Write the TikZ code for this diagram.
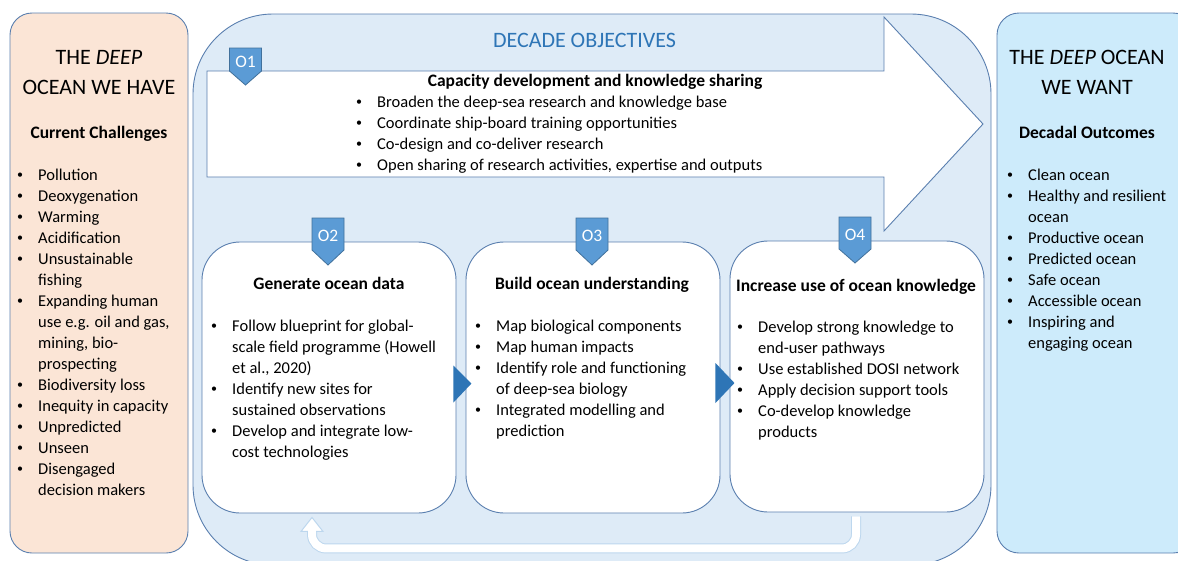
\documentclass[tikz,border=0pt]{standalone}
\usepackage{fontspec}
\setmainfont{Carlito}
\usetikzlibrary{calc}

\definecolor{edge}{HTML}{5A7FAF}
\definecolor{peach}{HTML}{FBE5D6}
\definecolor{paleblue}{HTML}{DEEBF7}
\definecolor{skyfill}{HTML}{CDEBFB}
\definecolor{tagblue}{HTML}{5B9BD5}
\definecolor{tagedge}{HTML}{41719C}
\definecolor{deepblue}{HTML}{2E75B6}
\definecolor{loopedge}{HTML}{BDD7EE}

% bullet lines and continuation lines of a list
\newcommand\bl{\makebox[22pt][l]{\hspace{1pt}\raisebox{1.6pt}{\fontsize{12}{12}\selectfont\textbullet}}}
\newcommand\cn{\hspace*{22pt}}
\newcommand\lines[1]{\begin{tabular}[t]{@{}l@{}}#1\end{tabular}}
\newcommand\clines[1]{\begin{tabular}[t]{@{}c@{}}#1\end{tabular}}

% objective tag: name, x, top, shoulder, tip, label
\newcommand\objtag[6]{%
  \draw[tagshape] (#2-16,#3) -- (#2+16,#3) -- (#2+16,#4) -- (#2,#5) -- (#2-16,#4) -- cycle;
  \node[tagtext] (#1) at (#2,{(#3+#4)/2+2}) {#6};}

\tikzset{
  panel/.style={draw=edge, line width=0.9pt, rounded corners=#1, inner sep=0pt},
  panel/.default=22pt,
  tagshape/.style={fill=tagblue, draw=tagedge, line width=0.8pt},
  tagtext/.style={text=white, font=\fontsize{17.5}{19}\selectfont, inner sep=0pt},
  body/.style={font=\fontsize{16.5}{21}\selectfont, inner sep=0pt, anchor=base west},
  head/.style={font=\bfseries\fontsize{17.5}{21}\selectfont, inner sep=0pt, anchor=base},
  big/.style={font=\fontsize{22}{30}\selectfont, inner sep=0pt, anchor=base},
  pointer/.style={fill=deepblue},
}

\begin{document}
\begin{tikzpicture}[x=1pt, y=-1pt]
\useasboundingbox (0,0) rectangle (1178,560);
\clip (0,0) rectangle (1178,560);

% three panels
\node[panel=22pt, fill=peach, minimum width=178pt, minimum height=540pt] (have) at (99,283) {};
\node[panel=80pt, fill=paleblue, minimum width=798pt, minimum height=551pt] (obj) at (592,289.5) {};
\node[panel=22pt, fill=skyfill, minimum width=198pt, minimum height=540pt] (want) at (1096,283) {};

% objective O1 arrow
\draw[fill=white, draw=edge, line width=0.9pt]
  (207,71) -- (884,71) -- (884,17) -- (983,124) -- (884,231) -- (884,177) -- (207,177) -- cycle;

% objectives O2--O4
\node[panel=38pt, fill=white, minimum width=254pt, minimum height=271pt] (b2) at (329,377.5) {};
\node[panel=38pt, fill=white, minimum width=254pt, minimum height=271pt] (b3) at (593,377.5) {};
\node[panel=38pt, fill=white, minimum width=254pt, minimum height=271pt] (b4) at (857,376.5) {};

% pointers between the objectives
\fill[pointer] ($(b2.east)+(-3,-12)$) -- ($(b2.east)+(-3,25)$) -- ($(b2.east)+(15,6)$) -- cycle;
\fill[pointer] ($(b3.east)+(-5,-14.5)$) -- ($(b3.east)+(-5,25.5)$) -- ($(b3.east)+(14,5.5)$) -- cycle;

% feedback loop from O4 back to O2
\draw[draw=loopedge, line width=1pt, double=white, double distance=8pt, rounded corners=14pt]
  ($(b4.south)+(-1,4)$) |- ($(b2.south)+(-17,35)$) -- ($(b2.south)+(-17,17)$);
\draw[fill=white, draw=loopedge, line width=1pt]
  ($(b2.south)+(-28,18)$) -- ($(b2.south)+(-17,4)$) -- ($(b2.south)+(-6,18)$) -- cycle;
\fill[white] ($(b2.south)+(-21,16)$) rectangle ($(b2.south)+(-13,20)$);

% tags
\objtag{t1}{245.5}{48}{71}{85}{O1}
\objtag{t2}{328}{218}{250}{265}{O2}
\objtag{t3}{592}{218}{250}{265}{O3}
\objtag{t4}{855}{217}{249}{263}{O4}

% left panel
\node[big] (haveT) at (99,64) {\clines{THE \textit{DEEP}\\OCEAN WE HAVE}};
\node[head] (haveH) at (99,138) {Current Challenges};
\node[body] (haveL) at (16,180) {\lines{%
\bl Pollution\\
\bl Deoxygenation\\
\bl Warming\\
\bl Acidification\\
\bl Unsustainable\\
\cn fishing\\
\bl Expanding human\\
\cn use e.g. oil and gas,\\
\cn mining, bio-\\
\cn prospecting\\
\bl Biodiversity loss\\
\bl Inequity in capacity\\
\bl Unpredicted\\
\bl Unseen\\
\bl Disengaged\\
\cn decision makers}};

% right panel
\node[big] (wantT) at (1087,64) {\clines{THE \textit{DEEP} OCEAN\\WE WANT}};
\node[head] (wantH) at (1087,138) {Decadal Outcomes};
\node[body] (wantL) at (1006,180) {\lines{%
\bl Clean ocean\\
\bl Healthy and resilient\\
\cn ocean\\
\bl Productive ocean\\
\bl Predicted ocean\\
\bl Safe ocean\\
\bl Accessible ocean\\
\bl Inspiring and\\
\cn engaging ocean}};

% middle panel
\node[big, text=deepblue] (objT) at (584.5,47) {DECADE OBJECTIVES};

\node[head] (h1) at (595,86) {Capacity development and knowledge sharing};
\node[body] (l1) at (355,107.5) {\lines{%
\bl Broaden the deep-sea research and knowledge base\\
\bl Coordinate ship-board training opportunities\\
\bl Co-design and co-deliver research\\
\bl Open sharing of research activities, expertise and outputs}};

\node[head] (h2) at (329,289) {Generate ocean data};
\node[body] (l2) at (210,331.5) {\lines{%
\bl Follow blueprint for global-\\
\cn scale field programme (Howell\\
\cn et al., 2020)\\
\bl Identify new sites for\\
\cn sustained observations\\
\bl Develop and integrate low-\\
\cn cost technologies}};

\node[head] (h3) at (592,289) {Build ocean understanding};
\node[body] (l3) at (474,331.5) {\lines{%
\bl Map biological components\\
\bl Map human impacts\\
\bl Identify role and functioning\\
\cn of deep-sea biology\\
\bl Integrated modelling and\\
\cn prediction}};

\node[head] (h4) at (856,291) {Increase use of ocean knowledge};
\node[body] (l4) at (736,332.5) {\lines{%
\bl Develop strong knowledge to\\
\cn end-user pathways\\
\bl Use established DOSI network\\
\bl Apply decision support tools\\
\bl Co-develop knowledge\\
\cn products}};
\end{tikzpicture}
\end{document}
